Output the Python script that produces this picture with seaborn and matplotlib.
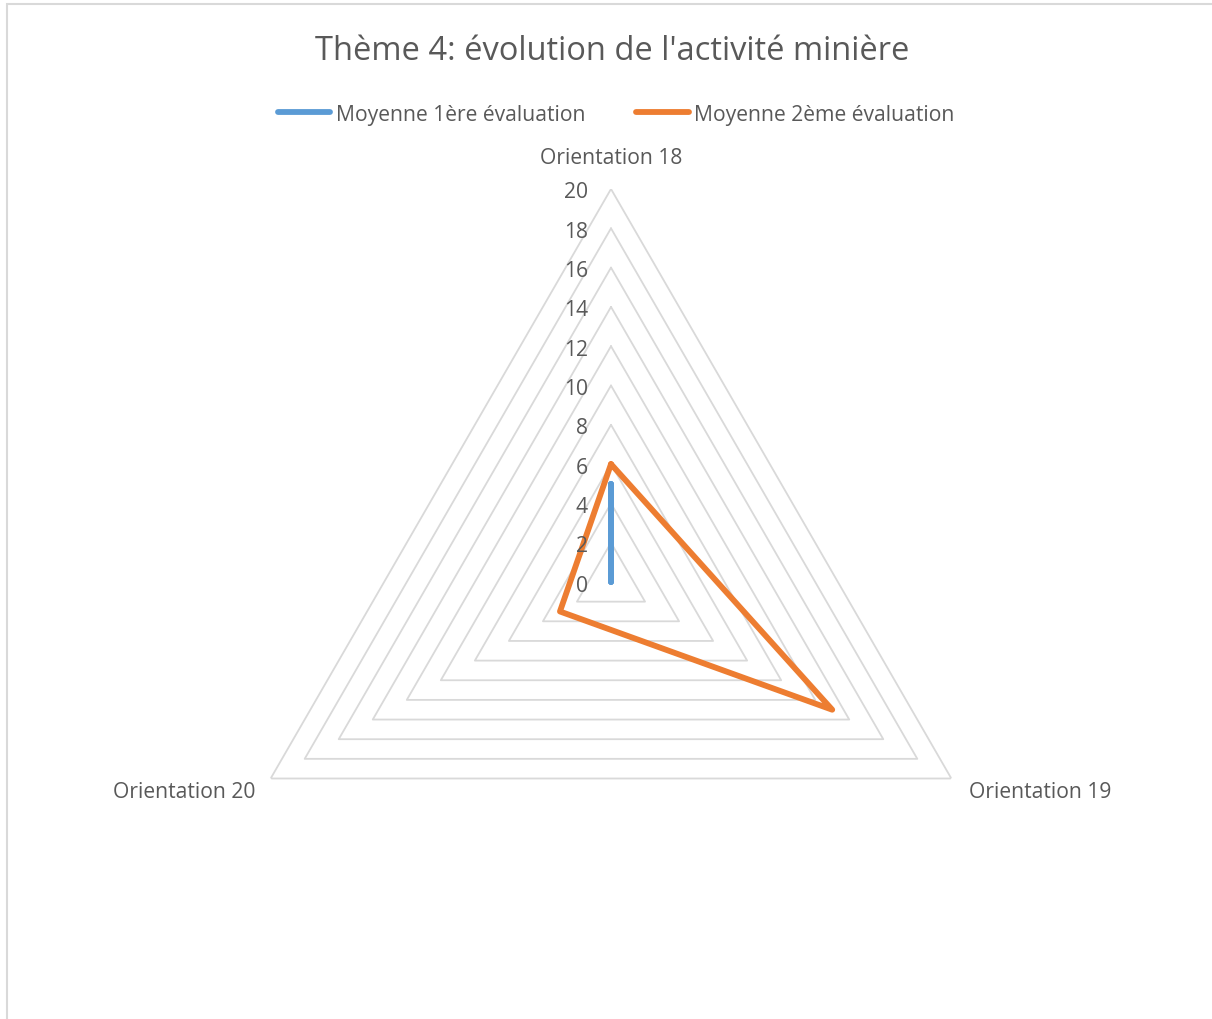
import numpy as np
import pandas as pd
import matplotlib
matplotlib.use("Agg")
import matplotlib.pyplot as plt
import matplotlib.transforms as mtransforms
from matplotlib.lines import Line2D
from matplotlib.patches import Rectangle
import seaborn as sns

# ---- data ----
categories = ["Orientation 18", "Orientation 19", "Orientation 20"]
eval1 = [5, 0, 0]
eval2 = [6, 13, 3]
series_names = ["Moyenne 1ère évaluation", "Moyenne 2ème évaluation"]
r_ticks = [0, 2, 4, 6, 8, 10, 12, 14, 16, 18, 20]
title = "Thème 4: évolution de l'activité minière"

sns.set_theme(style="white")
plt.rcParams["font.family"] = ["Open Sans", "DejaVu Sans"]

TXT = "#595959"
GRID = "#d9d9d9"
C1 = "#5B9BD5"
C2 = "#ED7D31"
FS = 15.2

W, H = 1212, 1020
fig = plt.figure(figsize=(W / 100, H / 100), dpi=100)
fig.patch.set_facecolor("white")

# chart frame
fig.patches.append(Rectangle((7 / W, -0.1), 1.2, (1020 - 5) / H + 0.1, transform=fig.transFigure,
                             fill=False, edgecolor=GRID, lw=1.5))

cx, cy, R = 611, 583, 393
ax = fig.add_axes([(cx - R) / W, (H - cy - R) / H, 2 * R / W, 2 * R / H], projection="polar")
ax.set_theta_zero_location("N")
ax.set_theta_direction(-1)
ax.set_ylim(0, 20)
ax.grid(False)
ax.spines["polar"].set_visible(False)
ax.set_xticks([])
ax.set_yticks([])
ax.set_facecolor("none")

n = len(categories)
theta = np.arange(n) * 2 * np.pi / n
theta_closed = np.append(theta, 2 * np.pi)

# polygon grid
for r in r_ticks[1:]:
    ax.plot(theta_closed, [r] * (n + 1), color=GRID, lw=1.3, zorder=1)

# series
for vals, col in [(eval1, C1), (eval2, C2)]:
    df = pd.DataFrame({"theta": theta_closed, "r": list(vals) + [vals[0]]})
    sns.lineplot(data=df, x="theta", y="r", sort=False, estimator=None, ax=ax,
                 color=col, lw=4.2, solid_capstyle="round", solid_joinstyle="round", zorder=3)
ax.set_xlabel("")
ax.set_ylabel("")
ax.set_xticks([])
ax.set_yticks([])
ax.set_ylim(0, 20)

# radial tick labels
off = mtransforms.offset_copy(ax.transData, fig=fig, x=-23, y=-3, units="dots")
for r in r_ticks:
    ax.text(0, r, str(r), transform=off, ha="right", va="center", fontsize=FS, color=TXT)

# category labels
offs = [(0, 31, "center", "center"), (18, -13, "left", "center"), (-15, -13, "right", "center")]
for t, lab, (dx, dy, ha, va) in zip(theta, categories, offs):
    tr = mtransforms.offset_copy(ax.transData, fig=fig, x=dx, y=dy, units="dots")
    ax.text(t, 20, lab, transform=tr, ha=ha, va=va, fontsize=FS, color=TXT)

fig.text(612 / W, 1 - 51 / H, title, ha="center", va="center", fontsize=23.5, color=TXT)

handles = [Line2D([0], [0], color=C1, lw=4.2, solid_capstyle="round"),
           Line2D([0], [0], color=C2, lw=4.2, solid_capstyle="round")]
fig.legend(handles, series_names, loc="center", bbox_to_anchor=(616 / W, 1 - 115 / H), ncol=2,
           frameon=False, fontsize=FS, labelcolor=TXT, handlelength=2.5, handletextpad=0.25,
           columnspacing=2.4)

fig.savefig("out.png", dpi=100)
